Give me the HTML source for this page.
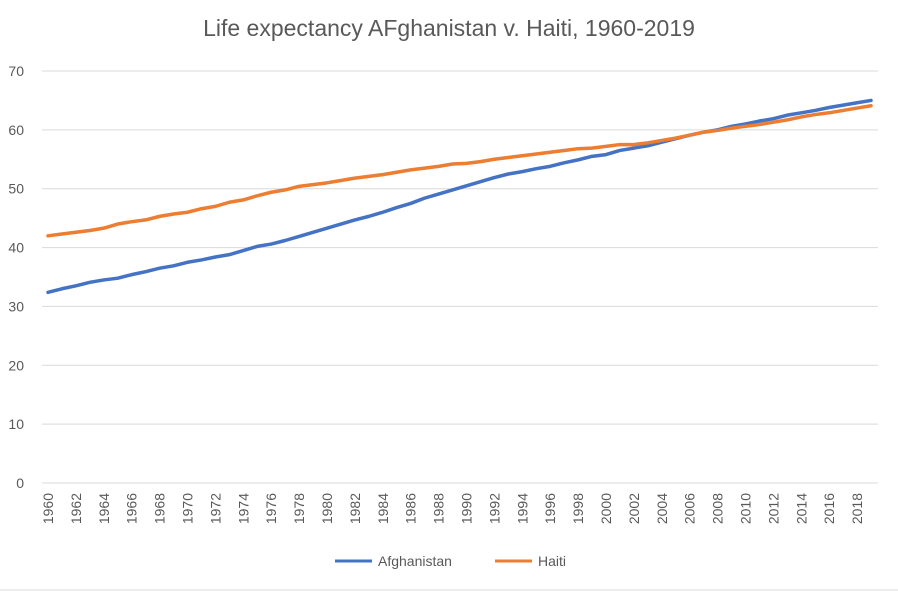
<!DOCTYPE html>
<html><head><meta charset="utf-8"><style>
body{margin:0;background:#fff;font-family:"Liberation Sans",sans-serif;}
</style></head><body>
<svg id="chart" width="898" height="592" xmlns="http://www.w3.org/2000/svg">
<rect width="898" height="592" fill="#fff"/>
<line x1="0" y1="590" x2="898" y2="590" stroke="#d9d9d9"/>
<text x="449" y="36" text-anchor="middle" font-size="23" fill="#595959">Life expectancy AFghanistan v. Haiti, 1960-2019</text>
<g id="grid"></g><g id="ylab"></g><g id="xlab"></g><g id="series"></g>
<g>
<line x1="335" y1="561" x2="372" y2="561" stroke="#4472c4" stroke-width="3"/>
<text x="378" y="566" font-size="14" fill="#595959">Afghanistan</text>
<line x1="495" y1="561" x2="532" y2="561" stroke="#ed7d31" stroke-width="3"/>
<text x="538" y="566" font-size="14" fill="#595959">Haiti</text>
</g>
</svg>
<script>
const years=[];for(let y=1960;y<=2019;y++)years.push(y);
const afghanistan=[32.4,33.0,33.5,34.1,34.5,34.8,35.4,35.9,36.5,36.9,37.5,37.9,38.4,38.8,39.5,40.2,40.6,41.2,41.9,42.6,43.3,44.0,44.7,45.3,46.0,46.8,47.5,48.4,49.1,49.8,50.5,51.2,51.9,52.5,52.9,53.4,53.8,54.4,54.9,55.5,55.8,56.5,56.9,57.3,57.9,58.5,59.1,59.6,60.0,60.6,61.0,61.5,61.9,62.5,62.9,63.3,63.8,64.2,64.6,65.0];
const haiti=[42.0,42.3,42.6,42.9,43.3,44.0,44.4,44.7,45.3,45.7,46.0,46.6,47.0,47.7,48.1,48.8,49.4,49.8,50.4,50.7,51.0,51.4,51.8,52.1,52.4,52.8,53.2,53.5,53.8,54.2,54.3,54.6,55.0,55.3,55.6,55.9,56.2,56.5,56.8,56.9,57.2,57.5,57.5,57.8,58.2,58.6,59.1,59.6,59.9,60.3,60.6,60.9,61.3,61.7,62.2,62.6,62.9,63.3,63.7,64.1];
const yTicks=[0,10,20,30,40,50,60,70];
const NS="http://www.w3.org/2000/svg";
const x0=48,x1=871,yZero=483,yTop=71;
const X=i=>x0+(x1-x0)*i/(years.length-1);
const Y=v=>yZero-(yZero-yTop)*v/70;
function mk(tag,attrs,parent){const e=document.createElementNS(NS,tag);for(const k in attrs)e.setAttribute(k,attrs[k]);document.getElementById(parent).appendChild(e);return e;}
yTicks.forEach(t=>{
  const l=mk('line',{x1:42,x2:878,y1:Y(t),y2:Y(t),stroke:'#d9d9d9','stroke-width':1},'grid');
  
  
  const tx=mk('text',{x:24,y:Y(t)+5,'text-anchor':'end','font-size':14,fill:'#595959'},'ylab');
  tx.textContent=t;
  
  
});
years.forEach((yr,i)=>{
  if(yr%2!==0)return;
  const tx=mk('text',{transform:`translate(${X(i)+5},${493}) rotate(-90)`,'text-anchor':'end','font-size':14,fill:'#595959'},'xlab');
  tx.textContent=yr;
  
  
});
[[afghanistan,'#4472c4','afghanistan-line'],[haiti,'#ed7d31','haiti-line']].forEach(([d,c,n])=>{
  const p=mk('polyline',{points:d.map((v,i)=>X(i)+','+Y(v)).join(' '),fill:'none',stroke:c,'stroke-width':3.5,'stroke-linejoin':'round','stroke-linecap':'round'},'series');
  
  
});
</script>
</body></html>
